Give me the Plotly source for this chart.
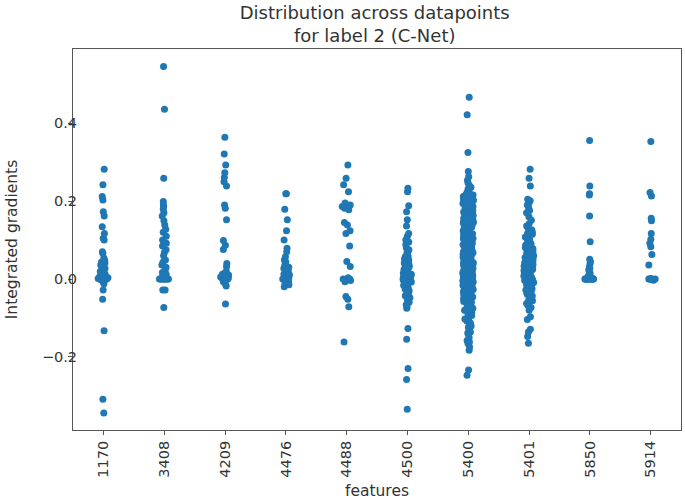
import plotly.graph_objects as go

features = ["1170", "3408", "4209", "4476", "4488", "4500", "5400", "5401", "5850", "5914"]

v1170 = [0.282, 0.242, 0.212, 0.203, 0.173, 0.162, 0.134, 0.117, 0.105, 0.100,
         0.070, 0.066, 0.054, 0.048, 0.044, 0.041, 0.036, 0.033, 0.030, 0.027,
         0.025, 0.022, 0.019, 0.018, 0.015, 0.012, 0.010, 0.008, 0.006, 0.004,
         0.003, 0.002, 0.001, 0.000, 0.000, -0.001, -0.002, -0.004, -0.006, -0.008,
         -0.012, -0.028, -0.052, -0.133, -0.309, -0.344]
v3408 = [0.546, 0.436, 0.259, 0.199, 0.190, 0.186, 0.180, 0.170, 0.162, 0.150,
         0.139, 0.128, 0.120, 0.110, 0.100, 0.092, 0.085, 0.075, 0.068, 0.060,
         0.049, 0.043, 0.036, 0.030, 0.023, 0.017, 0.012, 0.008, 0.003, 0.000,
         0.000, 0.000, 0.000, 0.000, 0.000, 0.000, 0.000, 0.000, 0.000,
         -0.028, -0.028, -0.073]
v4209 = [0.364, 0.321, 0.293, 0.273, 0.261, 0.250, 0.239, 0.190, 0.182, 0.152,
         0.099, 0.087, 0.076, 0.040, 0.032, 0.020, 0.015, 0.012, 0.010, 0.006,
         0.005, 0.003, 0.000, 0.000, 0.000, -0.003, -0.007, -0.012, -0.018, -0.064]
v4476 = [0.219, 0.219, 0.179, 0.152, 0.124, 0.100, 0.079, 0.070, 0.057, 0.049,
         0.044, 0.035, 0.030, 0.027, 0.022, 0.018, 0.014, 0.012, 0.010, 0.007,
         0.004, 0.002, 0.000, 0.000, 0.000, -0.003, -0.006, -0.010, -0.015, -0.020]
v4488 = [0.293, 0.259, 0.242, 0.224, 0.195, 0.190, 0.186, 0.182, 0.178, 0.145,
         0.139, 0.124, 0.117, 0.085, 0.045, 0.032, 0.003, 0.000, 0.000, 0.000,
         -0.004, -0.007, -0.045, -0.052, -0.071, -0.162]
v4500 = [0.233, 0.224, 0.188, 0.173, 0.152, 0.136, 0.117, 0.110, 0.100, 0.095,
         0.088, 0.080, 0.075, 0.068, 0.062, 0.057, 0.052, 0.048, 0.044, 0.040,
         0.036, 0.033, 0.030, 0.027, 0.024, 0.021, 0.018, 0.015, 0.012, 0.010,
         0.008, 0.006, 0.004, 0.002, 0.000, 0.000, 0.000, -0.002, -0.004, -0.006,
         -0.008, -0.010, -0.013, -0.016, -0.019, -0.022, -0.026, -0.030, -0.034, -0.038,
         -0.043, -0.048, -0.054, -0.060, -0.066, -0.071, -0.075, 0.025, 0.013, 0.003,
         -0.011, -0.024, 0.041, 0.058, -0.127, -0.155, -0.230, -0.258, -0.335]
v5400 = [0.467, 0.422, 0.325, 0.276, 0.263, 0.254, 0.247, 0.240, 0.236, 0.231,
         0.226, 0.223, 0.221, 0.218, 0.217, 0.214, 0.212, 0.209, 0.207, 0.205,
         0.203, 0.200, 0.198, 0.195, 0.194, 0.191, 0.188, 0.186, 0.183, 0.181,
         0.178, 0.176, 0.173, 0.171, 0.168, 0.165, 0.163, 0.161, 0.158, 0.156,
         0.153, 0.150, 0.148, 0.146, 0.143, 0.141, 0.138, 0.136, 0.133, 0.131,
         0.128, 0.126, 0.124, 0.121, 0.119, 0.116, 0.114, 0.112, 0.109, 0.107,
         0.104, 0.102, 0.100, 0.097, 0.095, 0.093, 0.091, 0.088, 0.086, 0.084,
         0.082, 0.080, 0.077, 0.075, 0.073, 0.071, 0.069, 0.067, 0.065, 0.063,
         0.061, 0.059, 0.057, 0.055, 0.053, 0.051, 0.049, 0.047, 0.046, 0.044,
         0.042, 0.040, 0.039, 0.037, 0.035, 0.034, 0.032, 0.030, 0.029, 0.027,
         0.026, 0.024, 0.023, 0.021, 0.020, 0.018, 0.017, 0.015, 0.014, 0.012,
         0.011, 0.010, 0.008, 0.007, 0.006, 0.005, 0.004, 0.003, 0.002, 0.001,
         0.000, 0.000, 0.000, 0.000, -0.001, -0.002, -0.003, -0.004, -0.005, -0.007,
         -0.008, -0.010, -0.011, -0.013, -0.015, -0.016, -0.018, -0.020, -0.022, -0.024,
         -0.026, -0.028, -0.030, -0.032, -0.034, -0.036, -0.039, -0.041, -0.044, -0.046,
         -0.049, -0.051, -0.054, -0.057, -0.060, -0.063, -0.066, -0.069, -0.072, -0.075,
         -0.078, -0.081, -0.084, -0.087, -0.090, -0.094, -0.098, -0.103, -0.108, -0.113,
         -0.118, -0.124, -0.130, -0.136, -0.142, -0.150, -0.158, -0.166, -0.175, -0.183,
         0.213, 0.197, 0.184, 0.169, 0.154, 0.139, 0.122, 0.108, 0.094, 0.081,
         0.068, 0.056, 0.045, 0.036, 0.028, 0.019, 0.013, 0.006, -0.006, -0.014,
         -0.025, -0.037, -0.050, -0.065, -0.080, 0.209, 0.190, 0.175, 0.160, 0.145,
         0.130, 0.117, 0.103, 0.089, 0.074, 0.060, 0.050, 0.041, 0.031, 0.022,
         0.016, 0.009, 0.003, -0.003, -0.009, -0.017, -0.029, -0.043, -0.058, -0.071,
         0.216, 0.202, 0.187, 0.172, 0.157, 0.143, 0.127, 0.111, 0.098, 0.083,
         0.070, 0.058, 0.048, 0.038, 0.025, 0.014, 0.004, -0.012, -0.027, -0.040,
         -0.053, -0.068, -0.083, -0.093, -0.105, -0.121, -0.139, -0.162, 0.196, 0.151,
         -0.234, -0.247]
v5401 = [0.282, 0.259, 0.239, 0.205, 0.201, 0.196, 0.190, 0.184, 0.176, 0.170,
         0.160, 0.151, 0.142, 0.136, 0.132, 0.128, 0.124, 0.120, 0.117, 0.113,
         0.110, 0.106, 0.103, 0.099, 0.096, 0.093, 0.090, 0.087, 0.084, 0.081,
         0.078, 0.075, 0.072, 0.069, 0.066, 0.063, 0.060, 0.058, 0.055, 0.052,
         0.050, 0.047, 0.045, 0.042, 0.040, 0.037, 0.035, 0.033, 0.030, 0.028,
         0.026, 0.024, 0.022, 0.020, 0.018, 0.016, 0.014, 0.012, 0.010, 0.008,
         0.006, 0.004, 0.002, 0.000, 0.000, -0.002, -0.004, -0.006, -0.009, -0.012,
         -0.015, -0.018, -0.021, -0.024, -0.028, -0.032, -0.036, -0.040, -0.044, -0.048,
         -0.053, -0.058, -0.063, -0.068, -0.073, -0.080, 0.115, 0.089, 0.064, 0.038,
         0.015, -0.010, -0.034, -0.056, 0.126, 0.101, 0.077, 0.052, 0.027, 0.005,
         -0.016, -0.039, -0.062, 0.108, 0.070, 0.033, -0.025,
         -0.097, -0.104, -0.129, -0.136, -0.148, -0.165]
v5850 = [0.356, 0.239, 0.219, 0.216, 0.162, 0.096, 0.051, 0.045, 0.040, 0.032,
         0.027, 0.023, 0.015, 0.008, 0.003, 0.000, 0.000, 0.000, 0.000, 0.000,
         0.000, 0.000, 0.000, 0.000, 0.000, 0.000, 0.000, 0.000, 0.000, 0.000]
v5914 = [0.353, 0.222, 0.213, 0.156, 0.150, 0.117, 0.102, 0.092, 0.083, 0.063,
         0.036, 0.000, 0.000, 0.000, 0.000, 0.000, 0.000, 0.000, 0.000, -0.003]

series = [v1170, v3408, v4209, v4476, v4488, v4500, v5400, v5401, v5850, v5914]

xs, ys = [], []
for f, vals in zip(features, series):
    xs += [f] * len(vals)
    ys += vals

ytick_vals = [-0.2, 0.0, 0.2, 0.4]
ytick_text = ["\u22120.2", "0.0", "0.2", "0.4"]

fig = go.Figure(go.Box(
    x=xs, y=ys,
    boxpoints="all", jitter=0.36, pointpos=0,
    fillcolor="rgba(0,0,0,0)", line=dict(width=0, color="rgba(0,0,0,0)"),
    marker=dict(color="#1f77b4", size=7, line=dict(width=0)),
    hoveron="points", showlegend=False,
))

font = "DejaVu Sans"
fig.update_layout(
    width=685, height=500,
    margin=dict(l=73, r=4, t=49, b=70, autoexpand=False),
    paper_bgcolor="white", plot_bgcolor="white",
    font=dict(family=font, size=14, color="#333333"),
    title=dict(text="Distribution across datapoints<br>for label 2 (C-Net)",
               x=0.547, xanchor="center", yref="container", y=0.963, yanchor="middle",
               font=dict(family=font, size=18, color="#333333")),
    xaxis=dict(title=dict(text="features", standoff=9, font=dict(size=15.5)),
               type="category", categoryorder="array", categoryarray=features,
               range=[-0.5, 9.5], tickangle=-90, automargin=True,
               tickfont=dict(size=14.5),
               showline=True, linecolor="#555555", linewidth=1, mirror=True,
               ticks="outside", ticklen=4, tickcolor="#555555",
               showgrid=False, zeroline=False),
    yaxis=dict(title=dict(text="Integrated gradients", standoff=20, font=dict(size=15.5)),
               range=[-0.388, 0.591], tickvals=ytick_vals, ticktext=ytick_text,
               automargin=True, ticklabelstandoff=-12,
               tickfont=dict(size=14.5),
               showline=True, linecolor="#555555", linewidth=1, mirror=True,
               ticks="outside", ticklen=4, tickcolor="#555555",
               showgrid=False, zeroline=False),
)

fig.write_html("out.html", config={"displayModeBar": False},
               post_script="document.body.style.margin='0px';")
